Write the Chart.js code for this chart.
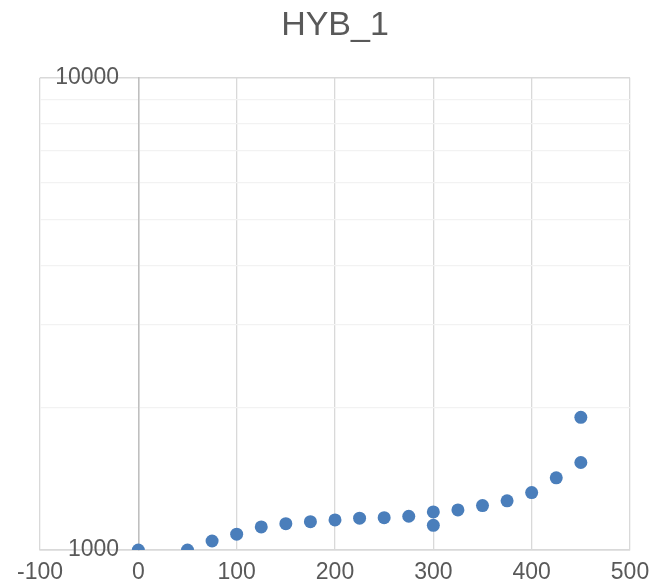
<!DOCTYPE html>
<html>
<head>
<meta charset="utf-8">
<style>
  html, body { margin: 0; padding: 0; background: #ffffff; }
  #wrap { width: 652px; height: 583px; }
</style>
<script src="https://cdn.jsdelivr.net/npm/chart.js@4/dist/chart.umd.min.js"></script>
</head>
<body>
<div id="wrap"><canvas id="c" width="652" height="583"></canvas></div>
<script>
// HYB_1 measurements
const xValues = [0, 50, 75, 100, 125, 150, 175, 200, 225, 250, 275, 300, 300, 325, 350, 375, 400, 425, 450, 450];
const yValues = [1000, 1000, 1045, 1080, 1119, 1137, 1148, 1158, 1168, 1171, 1179, 1204, 1128, 1216, 1242, 1271, 1323, 1422, 1532, 1910];

// Axis ticks
const xTicks = [-100, 0, 100, 200, 300, 400, 500];
const yTicks = [1000, 2000, 3000, 4000, 5000, 6000, 7000, 8000, 9000, 10000];
const yLabelled = [1000, 10000];

const points = xValues.map((x, i) => ({ x: x, y: yValues[i] }));

const FONT = "'Liberation Sans', Arial, Helvetica, sans-serif";
const TEXT = '#595959';

// keep the plot area fixed by the layout padding alone
const noScalePadding = s => { s.paddingLeft = 0; s.paddingRight = 0; s.paddingTop = 0; s.paddingBottom = 0; };

new Chart(document.getElementById('c'), {
  type: 'scatter',
  data: {
    datasets: [{
      label: 'HYB_1',
      data: points,
      backgroundColor: '#4a7ebb',
      borderWidth: 0,
      pointRadius: 6.5,
      pointHoverRadius: 6.5
    }]
  },
  options: {
    responsive: false,
    animation: false,
    layout: { padding: { left: 40, right: 22, top: 0, bottom: -12 } },
    plugins: {
      legend: { display: false },
      tooltip: { enabled: false },
      title: {
        display: true,
        text: 'HYB_1',
        color: TEXT,
        font: { family: FONT, size: 34, weight: 'normal', lineHeight: 1.2 },
        padding: { top: 5, bottom: 32 }
      }
    },
    scales: {
      x: {
        type: 'linear',
        position: 'bottom',
        min: -100,
        max: 500,
        afterBuildTicks: s => { s.ticks = xTicks.map(v => ({ value: v })); },
        afterFit: noScalePadding,
        ticks: {
          color: TEXT,
          font: { family: FONT, size: 23, lineHeight: 1.0 },
          padding: 11,
          maxRotation: 0,
          autoSkip: false
        },
        grid: { color: '#d9d9d9', lineWidth: 1.3, drawTicks: false },
        border: { color: '#d9d9d9', width: 1.5 }
      },
      y: {
        type: 'logarithmic',
        position: { x: 0 },
        min: 1000,
        max: 10000,
        afterBuildTicks: s => { s.ticks = yTicks.map(v => ({ value: v })); },
        afterFit: noScalePadding,
        ticks: {
          color: TEXT,
          font: { family: FONT, size: 23, lineHeight: 1.0 },
          autoSkip: false,
          // trailing spaces keep the labels clear of the axis line
          callback: v => (yLabelled.includes(v) ? String(v) + '   ' : '')
        },
        grid: {
          drawTicks: false,
          color: ctx => (ctx.tick && yLabelled.includes(ctx.tick.value) ? '#d9d9d9' : '#f2f2f2'),
          lineWidth: ctx => (ctx.tick && yLabelled.includes(ctx.tick.value) ? 1.5 : 1.3)
        },
        border: { color: '#bfbfbf', width: 1.5 }
      }
    }
  }
});
</script>
</body>
</html>
